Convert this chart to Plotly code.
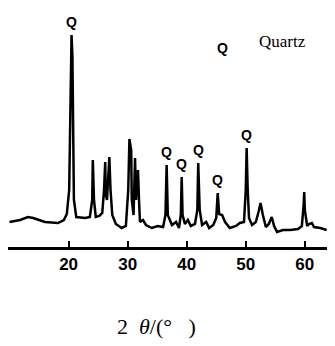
import plotly.graph_objects as go

# XRD pattern (2θ in degrees, intensity in arbitrary units)
two_theta = [10.0, 11.8, 13.1, 14.0, 16.0, 18.2, 19.2, 19.7, 20.1, 20.35, 20.5, 20.65, 20.9, 21.3,
             22.8, 23.6, 24.0, 24.1, 24.3, 24.6, 25.2, 25.7, 26.0, 26.2, 26.3, 26.5, 26.8, 26.9,
             27.1, 27.4, 28.0, 29.0, 29.7, 30.1, 30.3, 30.6, 30.7, 31.0, 31.25, 31.42, 31.62,
             31.75, 31.92, 32.09, 32.6, 33.1, 34.1, 35.1, 36.0, 36.4, 36.6, 36.8, 37.5, 38.2,
             38.7, 39.0, 39.15, 39.3, 39.7, 40.2, 40.7, 41.4, 41.8, 41.95, 42.2, 42.6, 43.3,
             43.8, 44.5, 45.0, 45.25, 45.5, 46.0, 46.5, 47.3, 48.35, 49.0, 49.7, 50.0, 50.15,
             50.33, 50.55, 51.06, 51.7, 52.16, 52.5, 52.9, 53.4, 53.9, 54.4, 54.8, 55.3, 56.3,
             57.5, 58.85, 59.5, 59.8, 59.9, 60.0, 60.4, 60.7, 61.2, 61.55, 62.6, 63.7]
intensity = [25, 27, 30, 29, 25, 24, 27, 33, 57, 190, 212, 190, 47, 30,
             29, 30, 47, 87, 47, 30, 31, 34, 57, 85, 52, 47, 77, 90,
             57, 32, 23, 19, 21, 57, 108, 97, 47, 32, 89, 47, 67,
             77, 47, 25, 27, 22, 19, 21, 20, 32, 82, 32, 22, 25,
             19, 32, 70, 32, 23, 27, 21, 23, 37, 84, 37, 22, 25,
             19, 22, 29, 54, 33, 32, 25, 19, 21, 24, 25, 57, 99,
             57, 29, 22, 25, 35, 44, 32, 20, 23, 30, 21, 15, 17,
             17, 18, 21, 42, 55, 37, 21, 23, 24, 20, 19, 17]

# Quartz-marked peaks
q_theta = [20.5, 36.6, 39.15, 41.95, 45.25, 50.15]
q_intensity = [212, 82, 70, 84, 54, 99]
q_text = "Q"

tick_vals = [20, 30, 40, 50, 60]
tick_text = ["20", "30", "40", "50", "60"]
x_title = "2&nbsp;&nbsp;<i>θ</i>/(°&nbsp;&nbsp;&nbsp;)"
legend_symbol = "Q"
legend_label = "Quartz"

fig = go.Figure()
fig.add_trace(go.Scatter(x=two_theta, y=intensity, mode="lines",
                         line=dict(color="black", width=2.5), hoverinfo="skip",
                         showlegend=False))

for qt, qi in zip(q_theta, q_intensity):
    fig.add_annotation(x=qt, y=qi, text=q_text, showarrow=False, yshift=13,
                       xanchor="center", yanchor="middle",
                       font=dict(family="Liberation Sans", size=14, color="black", weight="bold"))

fig.add_annotation(xref="paper", yref="paper", x=0.657, y=0.877, text=legend_symbol,
                   showarrow=False, xanchor="center", yanchor="middle",
                   font=dict(family="Liberation Sans", size=14, color="black", weight="bold"))
fig.add_annotation(xref="paper", yref="paper", x=0.838, y=0.907, text=legend_label,
                   showarrow=False, xanchor="center", yanchor="middle",
                   font=dict(family="Liberation Serif", size=17, color="black"))
fig.add_annotation(xref="paper", yref="paper", x=0.455, y=-0.35, text=x_title,
                   showarrow=False, xanchor="center", yanchor="middle",
                   font=dict(family="Liberation Serif", size=22, color="black"))

fig.update_layout(
    width=327, height=338,
    margin=dict(l=0, r=0, t=12, b=99),
    paper_bgcolor="white", plot_bgcolor="white",
    xaxis=dict(range=[9.74, 65.11], tickvals=tick_vals, ticktext=tick_text,
               showgrid=False, zeroline=False, showline=True, linecolor="black",
               linewidth=3, ticks="inside", ticklen=6, tickwidth=2, tickcolor="black",
               tickfont=dict(family="Liberation Sans", size=17, color="black", weight="bold")),
    yaxis=dict(range=[0, 227], visible=False, showgrid=False, zeroline=False),
)

fig.write_html("out.html")
